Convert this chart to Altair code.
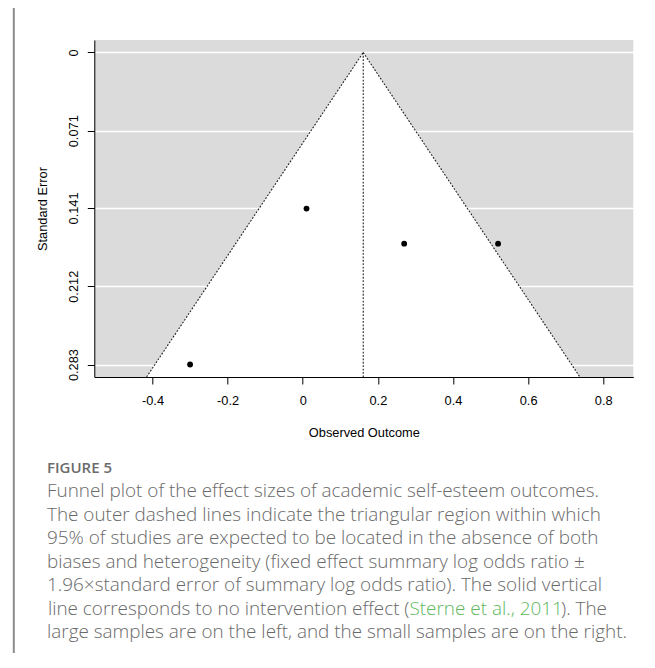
import altair as alt
import pandas as pd

# ---- data ----
effects = [0.01, 0.27, 0.52, -0.30]
std_errors = [0.1416, 0.1734, 0.1734, 0.283]
summary_estimate = 0.161
funnel_se = [0.0, 0.2943]
x_ticks = [-0.4, -0.2, 0.0, 0.2, 0.4, 0.6, 0.8]
y_ticks = [0.0, 0.071, 0.141, 0.212, 0.283]
x_domain = [-0.555, 0.88]
y_domain = [-0.0113, 0.2943]

fig_label = "FIGURE 5"
caption_lines = [
    "Funnel plot of the effect sizes of academic self-esteem outcomes.",
    "The outer dashed lines indicate the triangular region within which",
    "95% of studies are expected to be located in the absence of both",
    "biases and heterogeneity (fixed effect summary log odds ratio \u00b1",
    "1.96\u00d7standard error of summary log odds ratio). The solid vertical",
]
line6 = ["line corresponds to no intervention effect (", "Sterne et al., 2011", "). The"]
last_line = "large samples are on the left, and the small samples are on the right."

W, H = 539, 337

pts = pd.DataFrame({"x": effects, "se": std_errors})
funnel = pd.DataFrame({
    "se": funnel_se,
    "lo": [summary_estimate - 1.96 * s for s in funnel_se],
    "hi": [summary_estimate + 1.96 * s for s in funnel_se],
})
edges = pd.DataFrame({
    "side": ["L", "L", "R", "R"],
    "x": [funnel["lo"][0], funnel["lo"][1], funnel["hi"][0], funnel["hi"][1]],
    "se": [funnel_se[0], funnel_se[1], funnel_se[0], funnel_se[1]],
})
center = pd.DataFrame({"x": [summary_estimate], "se": [funnel_se[0]], "se2": [funnel_se[1]]})

xscale = alt.Scale(domain=x_domain, nice=False, zero=False)
yscale = alt.Scale(domain=y_domain, reverse=True, nice=False, zero=False)

AX_FONT = "Liberation Sans"
AX_SIZE = 12.8
xaxis = alt.Axis(
    values=x_ticks, grid=False, title="Observed Outcome",
    labelExpr="datum.value == 0 ? '0' : (datum.value < 0 ? '-' + format(-datum.value, '.1f') : format(datum.value, '.1f'))",
    domainColor="black", domainWidth=1, tickColor="black", tickWidth=1, tickSize=7,
    labelFont=AX_FONT, labelFontSize=AX_SIZE, labelColor="black", labelBaseline="alphabetic",
    labelPadding=20, labelAlign="center",
    titleFont=AX_FONT, titleFontSize=AX_SIZE, titleFontWeight="normal", titleColor="black",
    titleX=W / 2, titleY=59, titleBaseline="alphabetic", titleAlign="center",
)
yaxis = alt.Axis(
    values=y_ticks, grid=True, gridColor="white", gridWidth=1.5, title="Standard Error",
    labelExpr="datum.value == 0 ? '0' : format(datum.value, '.3f')",
    domainColor="black", domainWidth=1, tickColor="black", tickWidth=1, tickSize=7,
    labelFont=AX_FONT, labelFontSize=AX_SIZE, labelColor="black", labelAngle=270,
    labelAlign="center", labelBaseline="alphabetic", labelPadding=10,
    titleFont=AX_FONT, titleFontSize=AX_SIZE, titleFontWeight="normal", titleColor="black",
    titleX=-47.4, titleY=H / 2, titleAngle=270, titleAlign="center", titleBaseline="alphabetic",
)

area = alt.Chart(funnel).mark_area(orient="horizontal", color="white", opacity=1).encode(
    y=alt.Y("se:Q", scale=yscale, axis=yaxis),
    x=alt.X("lo:Q", scale=xscale, axis=xaxis),
    x2="hi:Q",
)
edge_lines = alt.Chart(edges).mark_line(color="#222222", strokeWidth=1.1, strokeDash=[1.8, 1.6]).encode(
    x=alt.X("x:Q", scale=xscale, axis=xaxis),
    y=alt.Y("se:Q", scale=yscale, axis=yaxis),
    detail="side:N",
)
center_line = alt.Chart(center).mark_rule(color="#222222", strokeWidth=1.1, strokeDash=[1.8, 1.6]).encode(
    x=alt.X("x:Q", scale=xscale, axis=xaxis),
    y=alt.Y("se:Q", scale=yscale, axis=yaxis),
    y2="se2:Q",
)
points = alt.Chart(pts).mark_circle(color="black", opacity=1, size=34).encode(
    x=alt.X("x:Q", scale=xscale, axis=xaxis),
    y=alt.Y("se:Q", scale=yscale, axis=yaxis),
)

# frame lines of the figure box
one = pd.DataFrame({"a": [0]})
frame_top = alt.Chart(one).mark_rule(color="#8c8c8c", strokeWidth=1.5).encode(
    x=alt.value(-81.3), x2=alt.value(600), y=alt.value(-34.3))
frame_left = alt.Chart(one).mark_rule(color="#8c8c8c", strokeWidth=2).encode(
    x=alt.value(-80.5), y=alt.value(-35), y2=alt.value(640))

CAP_FONT = "Open Sans"
CAP_SIZE = 18.9
CAP_COLOR = "#696969"
X0 = -47.3


def text_layer(s, x, y, align="left", color=CAP_COLOR, font=CAP_FONT, size=CAP_SIZE, weight=300):
    return alt.Chart(pd.DataFrame({"t": [s]})).mark_text(
        align=align, baseline="alphabetic", font=font, fontSize=size, color=color, fontWeight=weight
    ).encode(text="t:N", x=alt.value(x), y=alt.value(y))


texts = [text_layer(fig_label, X0, 433.3, size=15, weight=600, color="#6b6b6b")]
base_y = 457.3
step = 23.5
for i, s in enumerate(caption_lines):
    texts.append(text_layer(s, X0, base_y + i * step))
y6 = base_y + 5 * step
texts.append(text_layer(line6[0], 315.2, y6, align="right"))
texts.append(text_layer(line6[1], 315.2, y6, color="#5cb85c"))
texts.append(text_layer(line6[2], 512.7, y6, align="right"))
texts.append(text_layer(last_line, X0, base_y + 6 * step))

chart = alt.layer(area, edge_lines, center_line, points, frame_top, frame_left, *texts).properties(
    width=W, height=H,
    autosize=alt.AutoSizeParams(type="none"),
    padding={"left": 86.3, "top": 32, "right": 13.7, "bottom": 276},
).configure_view(fill="#dbdbdb", stroke=None)

chart.save("out.html", embed_options={"renderer": "svg", "actions": False})
